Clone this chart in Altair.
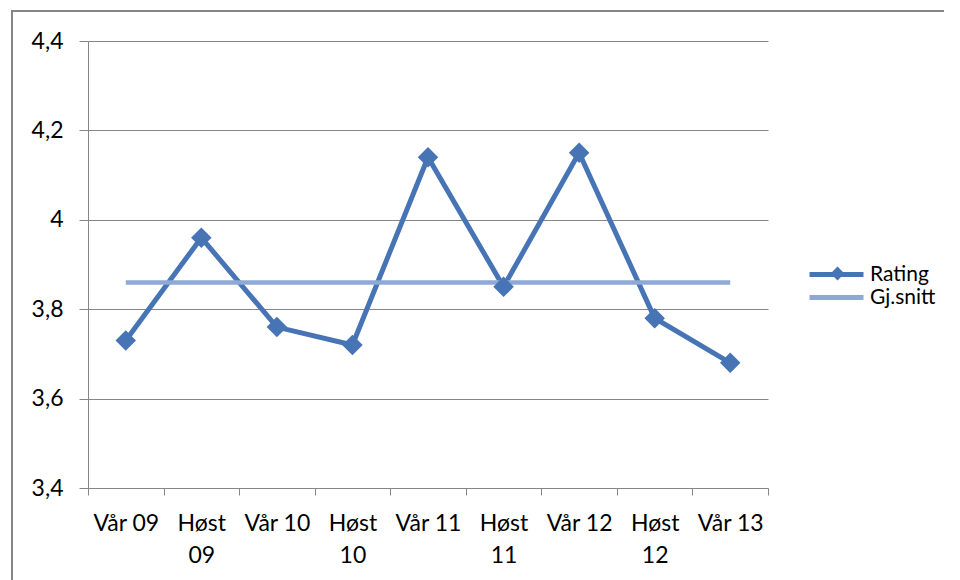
import altair as alt
import pandas as pd

categories = ["Vår 09", "Høst 09", "Vår 10", "Høst 10", "Vår 11",
              "Høst 11", "Vår 12", "Høst 12", "Vår 13"]
rating = [3.73, 3.96, 3.76, 3.72, 4.14, 3.85, 4.15, 3.78, 3.68]
average = [3.86, 3.86, 3.86, 3.86, 3.86, 3.86, 3.86, 3.86, 3.86]
y_ticks = [3.4, 3.6, 3.8, 4.0, 4.2, 4.4]
series_names = ["Rating", "Gj.snitt"]
series_colors = ["#4674B4", "#8EA9D5"]

df_r = pd.DataFrame({"cat": categories, "value": rating,
                     "series": "Rating", "marker": "Rating"})
df_a = pd.DataFrame({"cat": categories, "value": average, "series": "Gj.snitt"})

FONT = "Lato"
GRID = "#868686"
FS = 23
LFS = 21

x_enc = alt.X(
    "cat:N", sort=categories, bandPosition=0.5,
    scale=alt.Scale(type="band", paddingInner=0, paddingOuter=0),
    axis=alt.Axis(
        title=None, labelAngle=0, tickBand="extent", grid=False,
        domainColor=GRID, tickColor=GRID, tickSize=7, labelPadding=17,
        labelFont=FONT, labelFontSize=FS, labelColor="#000",
        labelLineHeight=32,
        labelExpr="indexof(datum.label, 'Høst') == 0 ? split(datum.label, ' ') : datum.label",
    ),
)
y_enc = alt.Y(
    "value:Q",
    scale=alt.Scale(domain=[3.4, 4.4], nice=False, zero=False),
    axis=alt.Axis(
        title=None, values=y_ticks, gridColor=GRID, gridWidth=1,
        domainColor=GRID, tickColor=GRID, tickSize=9, labelPadding=16,
        labelFont=FONT, labelFontSize=FS, labelColor="#000",
        labelExpr="replace(format(datum.value, '.1~f'), '.', ',')",
    ),
)

color_scale = alt.Scale(domain=series_names, range=series_colors)
color_legend = alt.Legend(
    title=None, orient="none", legendX=737, legendY=222,
    symbolType="M-3,0L3,0", symbolSize=324, symbolStrokeWidth=5,
    labelOffset=22, labelFont=FONT, labelFontSize=LFS, labelColor="#000",
    padding=0, rowPadding=1,
)

frame = pd.DataFrame({"d": [0]})
border_top = alt.Chart(frame).mark_rect(fill=GRID, strokeWidth=0).encode(
    x=alt.value(-77), x2=alt.value(900), y=alt.value(-31), y2=alt.value(-29)
)
border_left = alt.Chart(frame).mark_rect(fill=GRID, strokeWidth=0).encode(
    x=alt.value(-77), x2=alt.value(-75), y=alt.value(-31), y2=alt.value(600)
)

rating_line = alt.Chart(df_r).mark_line(strokeWidth=5).encode(
    x=x_enc, y=y_enc,
    color=alt.Color("series:N", scale=color_scale, legend=color_legend),
)
avg_line = alt.Chart(df_a).mark_line(strokeWidth=4.5).encode(
    x=x_enc, y=y_enc,
    color=alt.Color("series:N", scale=color_scale, legend=color_legend),
)
points = alt.Chart(df_r).mark_point(filled=True, size=420, opacity=1).encode(
    x=x_enc, y=y_enc,
    color=alt.value(series_colors[0]),
    shape=alt.Shape(
        "marker:N",
        scale=alt.Scale(domain=["Rating"], range=["diamond"]),
        legend=alt.Legend(
            title=None, orient="none", legendX=739, legendY=222,
            symbolSize=190, symbolFillColor=series_colors[0],
            symbolStrokeColor=series_colors[0], symbolStrokeWidth=0,
            labelExpr="''", labelFont=FONT, labelFontSize=LFS, padding=0,
        ),
    ),
)

chart = alt.layer(border_top, border_left, rating_line, avg_line, points).properties(
    width=680, height=447,
    autosize=alt.AutoSizeParams(type="none"),
    padding={"left": 80, "top": 33, "right": 176, "bottom": 92},
    background="white",
).configure_view(strokeWidth=0)

chart.save("out.html", embed_options={"renderer": "svg", "actions": False})
